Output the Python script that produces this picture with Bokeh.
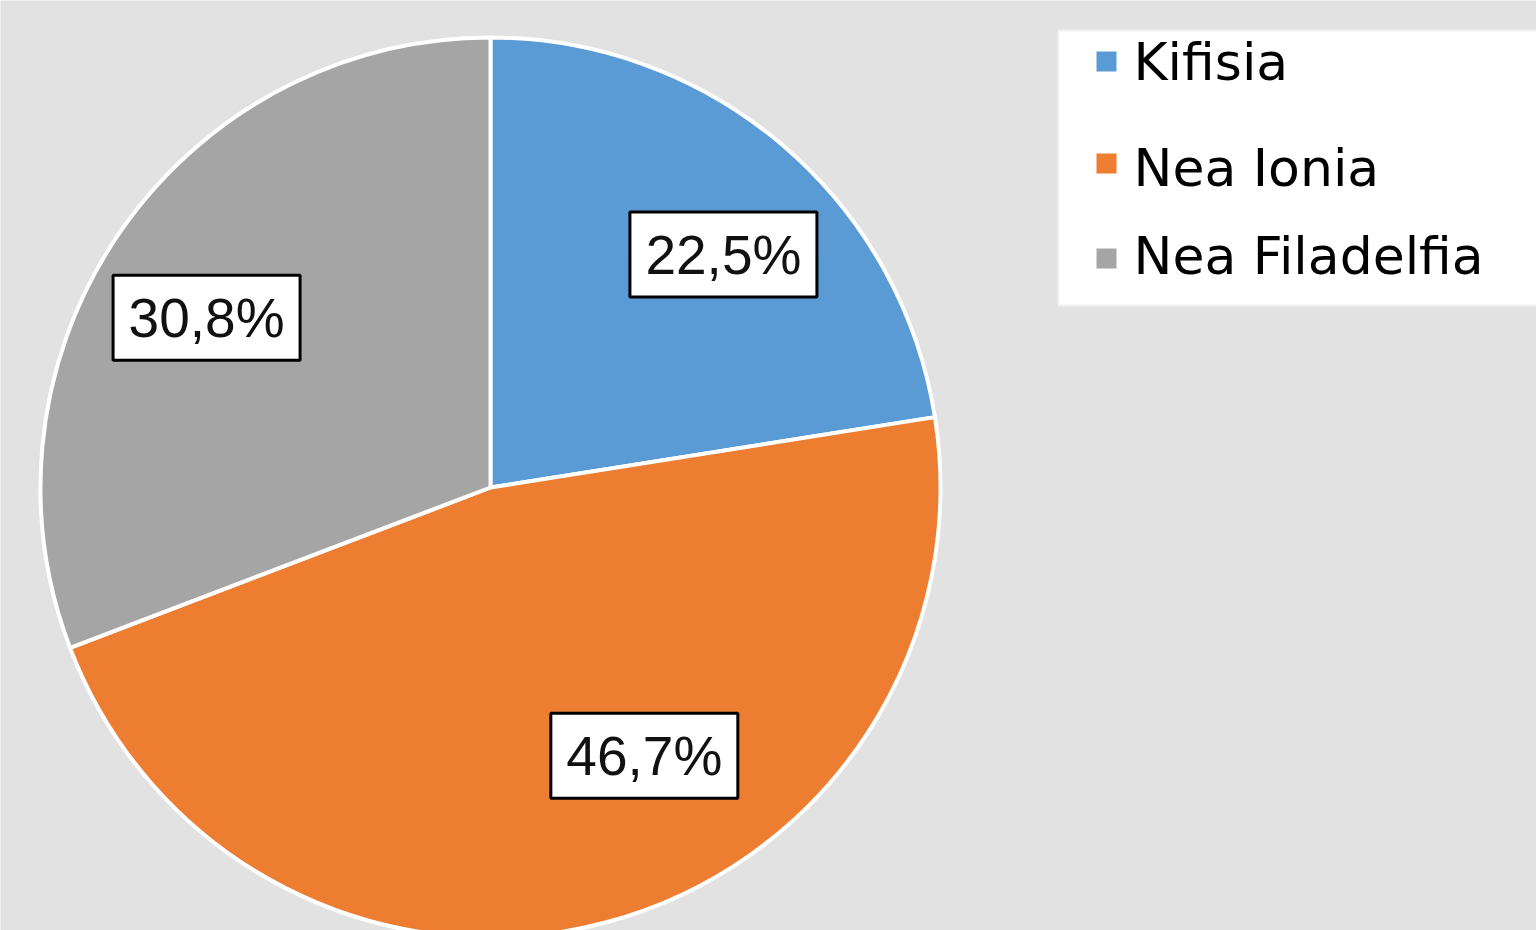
import math
from bokeh.plotting import figure
from bokeh.models import ColumnDataSource, Range1d
from bokeh.core.properties import value
from bokeh.embed import file_html
from bokeh.resources import INLINE

# ---- data ----
categories = ["Kifisia", "Nea Ionia", "Nea Filadelfia"]
shares = [22.5, 46.7, 30.8]
label_texts = ["22,5%", "46,7%", "30,8%"]
colors = ["#5b9bd5", "#ed7d31", "#a5a5a5"]

# ---- layout / style ----
W, H = 1536, 930
cx, cy, R = 490, 930 - 487, 450
label_frac = [0.732, 0.687, 0.735]
label_angle_adjust = [4.5, -14.9, -3.7]   # degrees, clockwise
bg = "#e2e2e2"

p = figure(width=W, height=H, output_backend="svg", toolbar_location=None,
           x_range=Range1d(0, W), y_range=Range1d(0, H), min_border=0)
p.axis.visible = False
p.grid.visible = False
p.outline_line_color = None
p.background_fill_color = bg
p.border_fill_color = bg

total = sum(shares)
starts, ends, lx, ly = [], [], [], []
cum = 0.0
for i, s in enumerate(shares):
    a0 = cum / total * 2 * math.pi
    cum += s
    a1 = cum / total * 2 * math.pi
    starts.append(math.pi / 2 - a0)
    ends.append(math.pi / 2 - a1)
    mid = (a0 + a1) / 2 + math.radians(label_angle_adjust[i])
    lx.append(cx + label_frac[i] * R * math.sin(mid))
    ly.append(cy + label_frac[i] * R * math.cos(mid))

src = ColumnDataSource(dict(start=starts, end=ends, color=colors, cat=categories))
p.wedge(x=cx, y=cy, radius=R, start_angle="start", end_angle="end",
        direction="clock", fill_color="color", line_color="white",
        line_width=4, source=src)

lsrc = ColumnDataSource(dict(x=lx, y=ly, t=label_texts))
p.rect(x="x", y="y", width=187, height=85, fill_color="white",
       line_color="black", line_width=3, source=lsrc)
p.text(x="x", y="y", text="t", text_align="center", text_baseline="middle",
       text_font=value("Liberation Sans"), text_font_size="55px",
       text_color="#111111", source=lsrc)

# ---- legend (drawn manually) ----
p.quad(left=1058, right=1560, bottom=H - 305, top=H - 30,
       fill_color="white", line_color="#f2f2f2", line_width=2)
leg_base = [61, 167, 255]
leg_mark = [61, 163, 258]
p.rect(x=[1106] * 3, y=[H - v for v in leg_mark], width=20, height=20,
       fill_color=colors, line_color=None)
p.text(x=[1133] * 3, y=[H - v for v in leg_base], text=categories,
       text_align="left", text_baseline="alphabetic",
       text_font=value("DejaVu Sans"), text_font_size="52px",
       text_color="#000000")

open("out.html", "w").write(file_html(p, INLINE))
